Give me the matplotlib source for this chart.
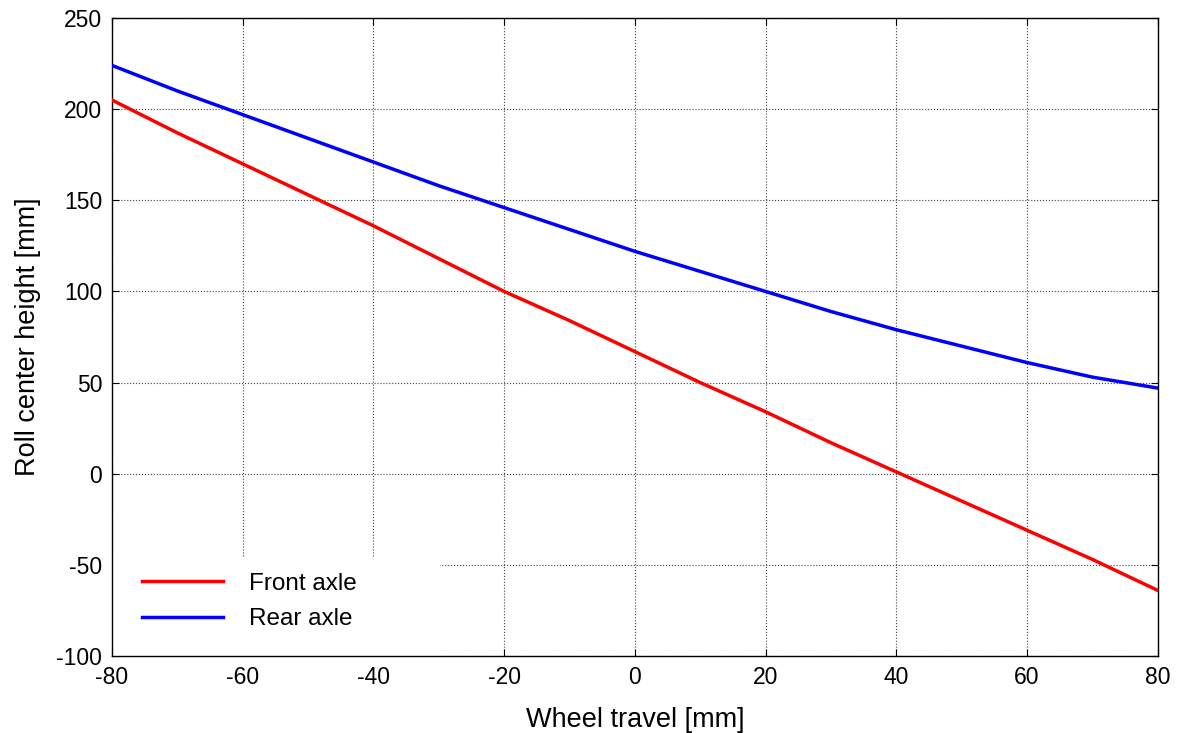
import matplotlib.pyplot as plt
from matplotlib.patches import Rectangle

plt.rcParams['font.family'] = ['Liberation Sans', 'DejaVu Sans']
plt.rcParams['axes.unicode_minus'] = False

wheel_travel = [-80, -70, -60, -50, -40, -30, -20, -10, 0, 10, 20, 30, 40, 50, 60, 70, 80]
front_axle = [205, 187, 170, 153, 136, 118, 100, 84, 67, 50, 34, 17, 1, -15, -31, -47, -64]
rear_axle = [224, 210, 197, 184, 171, 158, 146, 134, 122, 111, 100, 89, 79, 70, 61, 53, 47]

fig = plt.figure(figsize=(11.79, 7.33), dpi=100)
ax = fig.add_axes([0.095, 0.105, 0.887, 0.8704])

ax.plot(wheel_travel, front_axle, color='#ff0000', linewidth=2.5, label='Front axle', zorder=3)
ax.plot(wheel_travel, rear_axle, color='#0000ff', linewidth=2.5, label='Rear axle', zorder=3)

ax.set_xlim(-80, 80)
ax.set_ylim(-100, 250)
ax.set_xticks(range(-80, 81, 20))
ax.set_yticks(range(-100, 251, 50))
ax.set_axisbelow(True)
ax.grid(True, color='#444444', linestyle=':', linewidth=0.8)
ax.tick_params(direction='in', length=5, top=True, right=True, labelsize=16.5, pad=7)
for s in ax.spines.values():
    s.set_linewidth(1.0)

ax.set_xlabel('Wheel travel [mm]', fontsize=19.5, labelpad=13)
ax.set_ylabel('Roll center height [mm]', fontsize=19.5, labelpad=11)

# white legend background covering the grid, like the original
ax.add_patch(Rectangle((0, 0), 0.314, 0.154, transform=ax.transAxes,
                       facecolor='white', edgecolor='none', zorder=2))
leg = ax.legend(loc='lower left', bbox_to_anchor=(0.022, 0.029), fontsize=17.5,
                handlelength=3.3, handletextpad=1.1, labelspacing=0.55,
                borderpad=0.3, borderaxespad=0.0, frameon=False)

fig.savefig('out.png', dpi=100)
